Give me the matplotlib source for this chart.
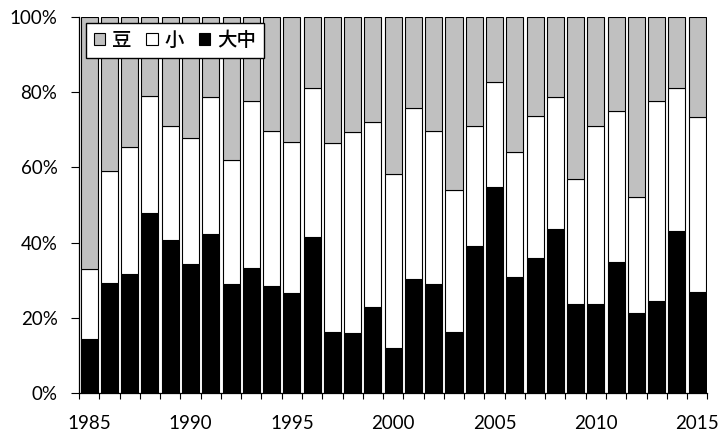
import numpy as np
import matplotlib
matplotlib.use('Agg')
from matplotlib import pyplot as plt

years = list(range(1985, 2016))
# 大中 (bottom, black) and 大中+小 cumulative share (%)
large_mid = [14.3, 29.3, 31.7, 47.9, 40.7, 34.2, 42.2, 29.0, 33.3, 28.4,
             26.6, 41.5, 16.2, 15.9, 22.9, 12.0, 30.3, 29.1, 16.3, 39.2,
             54.9, 30.9, 35.8, 43.7, 23.6, 23.6, 34.8, 21.4, 24.4, 43.1, 26.9]
cum_small = [33.1, 59.0, 65.5, 79.1, 70.9, 67.9, 78.8, 62.1, 77.7, 69.7,
             66.7, 81.0, 66.6, 69.4, 72.1, 58.2, 75.8, 69.7, 53.9, 70.9,
             82.6, 64.2, 73.6, 78.8, 56.9, 70.9, 74.9, 52.1, 77.7, 81.0, 73.4]
small = [c - l for c, l in zip(cum_small, large_mid)]
bean = [100 - c for c in cum_small]

x = np.arange(len(years))
fig = plt.figure(figsize=(7.21, 4.33), dpi=100)
ax = fig.add_axes([0.1096, 0.0924, 0.8715, 0.8683])

w = 0.84
b1 = ax.bar(x, large_mid, w, color='black', edgecolor='black', linewidth=0.8)
b2 = ax.bar(x, small, w, bottom=large_mid, color='white', edgecolor='black', linewidth=0.8)
b3 = ax.bar(x, bean, w, bottom=cum_small, color='#c0c0c0', edgecolor='black', linewidth=0.8)

ax.set_xlim(-0.5, len(years) - 0.5)
ax.set_ylim(0, 100)
ax.set_yticks(range(0, 101, 20))
ax.set_yticklabels(['%d%%' % v for v in range(0, 101, 20)])

# tick marks between categories, labels every 5 years at bar centres
ax.set_xticks(np.arange(-0.5, len(years), 1.0), minor=True)
lab_pos = [i for i, y in enumerate(years) if y % 5 == 0]
ax.set_xticks(lab_pos)
ax.set_xticklabels([str(years[i]) for i in lab_pos])
ax.tick_params(axis='x', which='major', length=0, pad=16)
ax.tick_params(axis='x', which='minor', length=4.5, width=0.8, direction='out')
ax.tick_params(axis='y', length=5.5, width=0.8, direction='out', pad=10)
for t in ax.get_xticklabels() + ax.get_yticklabels():
    t.set_fontfamily(['Lato', 'DejaVu Sans'])
    t.set_fontsize(13.5)

for s in ['top', 'right']:
    ax.spines[s].set_visible(False)
for s in ['left', 'bottom']:
    ax.spines[s].set_linewidth(0.9)

leg = ax.legend([b3, b2, b1], ['豆', '小', '大中'], loc='upper left',
                bbox_to_anchor=(0.011, 0.984), ncol=3, frameon=True, fancybox=False,
                handlelength=0.6, handleheight=0.6, handletextpad=0.35,
                columnspacing=0.75, borderpad=0.4, borderaxespad=0,
                prop={'family': ['Noto Sans CJK JP', 'DejaVu Sans'], 'size': 14,
                      'weight': 'medium'})
leg.get_frame().set_edgecolor('black')
leg.get_frame().set_linewidth(1.0)
leg.get_frame().set_alpha(1)

plt.savefig('out.png', dpi=100)
